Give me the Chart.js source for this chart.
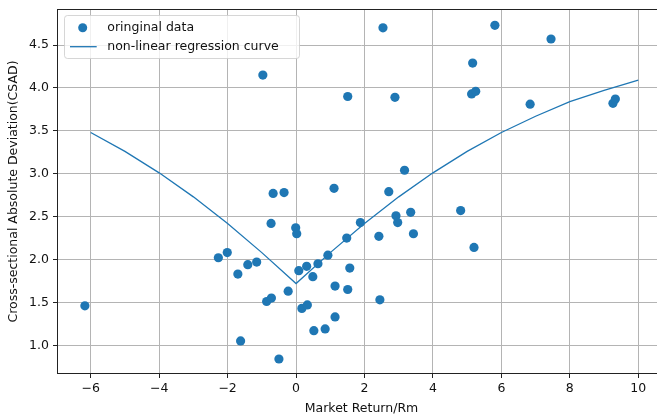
<!DOCTYPE html>
<html>
<head>
<meta charset="utf-8">
<script src="https://cdn.jsdelivr.net/npm/chart.js@4.4.1/dist/chart.umd.min.js"></script>
<style>
  html, body { margin: 0; padding: 0; background: #ffffff; overflow: hidden; width: 657px; height: 417px; }
  canvas { display: block; }
</style>
</head>
<body>
<canvas id="chart" width="666" height="417" style="width:666px;height:417px"></canvas>
<script>
// Market return (Rm) of each observation
const rmValues = [
  -6.17, -2.27, -2.01, -1.70, -1.62, -1.41, -1.15, -0.97, -0.86, -0.72,
  -0.73, -0.67, -0.35, -0.50, -0.23, -0.01, 0.02, 0.08, 0.17, 0.33,
  0.31, 0.49, 0.52, 0.64, 0.85, 0.93, 1.11, 1.14, 1.14, 1.48,
  1.51, 1.51, 1.57, 1.88, 2.42, 2.45, 2.54, 2.71, 2.89, 2.92,
  2.97, 3.17, 3.35, 3.43, 4.81, 5.13, 5.16, 5.20, 5.25, 5.81,
  6.84, 7.45, 9.26, 9.33
];
// Cross-sectional absolute deviation of each observation
const csadValues = [
  1.46, 2.02, 2.08, 1.83, 1.05, 1.94, 1.97, 4.15, 1.51, 1.55,
  2.42, 2.77, 2.78, 0.84, 1.63, 2.37, 2.30, 1.87, 1.43, 1.47,
  1.92, 1.80, 1.17, 1.95, 1.19, 2.05, 2.83, 1.69, 1.33, 2.25,
  1.65, 3.90, 1.90, 2.43, 2.27, 1.53, 4.70, 2.79, 3.89, 2.51,
  2.43, 3.04, 2.55, 2.30, 2.57, 3.93, 4.29, 2.14, 3.96, 4.73,
  3.81, 4.57, 3.82, 3.87
];
// Fitted regression curve
const curveRm   = [-6, -5, -4, -3, -2, -1, 0, 1, 2, 3, 4, 5, 6, 7, 8, 9, 10];
const curveCsad = [3.48, 3.26, 3.01, 2.73, 2.42, 2.08, 1.72, 2.08, 2.42, 2.73, 3.01, 3.26, 3.48, 3.67, 3.84, 3.97, 4.09];

// Axis ticks and labels
const xTickValues = [-6, -4, -2, 0, 2, 4, 6, 8, 10];
const yTickValues = [1.0, 1.5, 2.0, 2.5, 3.0, 3.5, 4.0, 4.5];
const legendLabels = ['oringinal data', 'non-linear regression curve'];
const xAxisTitle = 'Market Return/Rm';
const yAxisTitle = 'Cross-sectional Absolute Deviation(CSAD)';

const BLUE = '#1f77b4';
const FONT = 'DejaVu Sans';
const FONT_SIZE = 12.5;
const TEXT = '#111111';

// Frame around the plotting area (all four sides)
const framePlugin = {
  id: 'frame',
  afterDatasetsDraw(chart) {
    const { ctx, chartArea: a } = chart;
    ctx.save();
    ctx.strokeStyle = '#222222';
    ctx.lineWidth = 1;
    ctx.strokeRect(Math.round(a.left) + 0.5, Math.round(a.top) + 0.5,
                   Math.round(a.right - a.left) - 1, Math.round(a.bottom - a.top) - 1);
    ctx.restore();
  }
};

// Boxed legend in the upper-left corner of the plot
const legendBoxPlugin = {
  id: 'legendBox',
  afterDraw(chart) {
    const { ctx, chartArea: a } = chart;
    const x0 = a.left + 7.5, y0 = a.top + 6.5, w = 235, h = 43, r = 3;
    ctx.save();
    ctx.beginPath();
    ctx.moveTo(x0 + r, y0);
    ctx.lineTo(x0 + w - r, y0);
    ctx.arcTo(x0 + w, y0, x0 + w, y0 + r, r);
    ctx.lineTo(x0 + w, y0 + h - r);
    ctx.arcTo(x0 + w, y0 + h, x0 + w - r, y0 + h, r);
    ctx.lineTo(x0 + r, y0 + h);
    ctx.arcTo(x0, y0 + h, x0, y0 + h - r, r);
    ctx.lineTo(x0, y0 + r);
    ctx.arcTo(x0, y0, x0 + r, y0, r);
    ctx.closePath();
    ctx.fillStyle = 'rgba(255,255,255,0.8)';
    ctx.fill();
    ctx.strokeStyle = 'rgba(204,204,204,0.8)';
    ctx.lineWidth = 1;
    ctx.stroke();

    // scatter marker
    ctx.fillStyle = BLUE;
    ctx.beginPath();
    ctx.arc(a.left + 25.7, a.top + 18.7, 4.5, 0, Math.PI * 2);
    ctx.fill();
    // line sample
    ctx.strokeStyle = BLUE;
    ctx.lineWidth = 1.3;
    ctx.beginPath();
    ctx.moveTo(a.left + 13, a.top + 37.7);
    ctx.lineTo(a.left + 39.7, a.top + 37.7);
    ctx.stroke();

    ctx.fillStyle = TEXT;
    ctx.font = FONT_SIZE + 'px "' + FONT + '"';
    ctx.textAlign = 'left';
    ctx.textBaseline = 'alphabetic';
    ctx.fillText(legendLabels[0], a.left + 50.3, a.top + 21.7);
    ctx.fillText(legendLabels[1], a.left + 50.3, a.top + 41.3);
    ctx.restore();
  }
};

const scatterPoints = rmValues.map((x, i) => ({ x, y: csadValues[i] }));
const curvePoints = curveRm.map((x, i) => ({ x, y: curveCsad[i] }));

new Chart(document.getElementById('chart'), {
  type: 'scatter',
  data: {
    datasets: [
      {
        label: legendLabels[0],
        data: scatterPoints,
        backgroundColor: BLUE,
        borderColor: BLUE,
        borderWidth: 0,
        pointRadius: 4.6,
        pointHoverRadius: 4.6,
        order: 2
      },
      {
        label: legendLabels[1],
        type: 'line',
        data: curvePoints,
        borderColor: BLUE,
        borderWidth: 1.3,
        pointRadius: 0,
        tension: 0,
        fill: false,
        order: 1
      }
    ]
  },
  options: {
    responsive: false,
    animation: false,
    devicePixelRatio: 1,
    layout: { autoPadding: false, padding: { left: 0, right: 0, top: 9, bottom: 0 } },
    plugins: {
      legend: { display: false },
      tooltip: { enabled: false }
    },
    scales: {
      x: {
        type: 'linear',
        min: -6.985,
        max: 10.81,
        afterBuildTicks(scale) { scale.ticks = xTickValues.map(v => ({ value: v })); },
        afterFit(scale) {
          scale.height = 43;
          scale.paddingLeft = 0;
          scale.paddingRight = 0;
        },
        ticks: {
          font: { family: FONT, size: FONT_SIZE },
          color: TEXT,
          padding: 3,
          callback: v => String(v).replace('-', '\u2212')
        },
        grid: { color: '#b4b4b4', lineWidth: 1, tickColor: '#222222', tickLength: 4 },
        border: { display: false },
        title: {
          display: true,
          text: xAxisTitle,
          font: { family: FONT, size: FONT_SIZE },
          color: TEXT,
          padding: { top: 0, bottom: 1 }
        }
      },
      y: {
        type: 'linear',
        min: 0.665,
        max: 4.92,
        afterBuildTicks(scale) { scale.ticks = yTickValues.map(v => ({ value: v })); },
        afterFit(scale) {
          scale.width = 57;
          scale.paddingTop = 0;
          scale.paddingBottom = 0;
        },
        ticks: {
          font: { family: FONT, size: FONT_SIZE },
          color: TEXT,
          padding: 4,
          callback: v => Number(v).toFixed(1)
        },
        grid: { color: '#b4b4b4', lineWidth: 1, tickColor: '#222222', tickLength: 4 },
        border: { display: false },
        title: {
          display: true,
          text: yAxisTitle,
          font: { family: FONT, size: FONT_SIZE },
          color: TEXT,
          padding: { top: 6, bottom: 0 }
        }
      }
    }
  },
  plugins: [framePlugin, legendBoxPlugin]
});
</script>
</body>
</html>
